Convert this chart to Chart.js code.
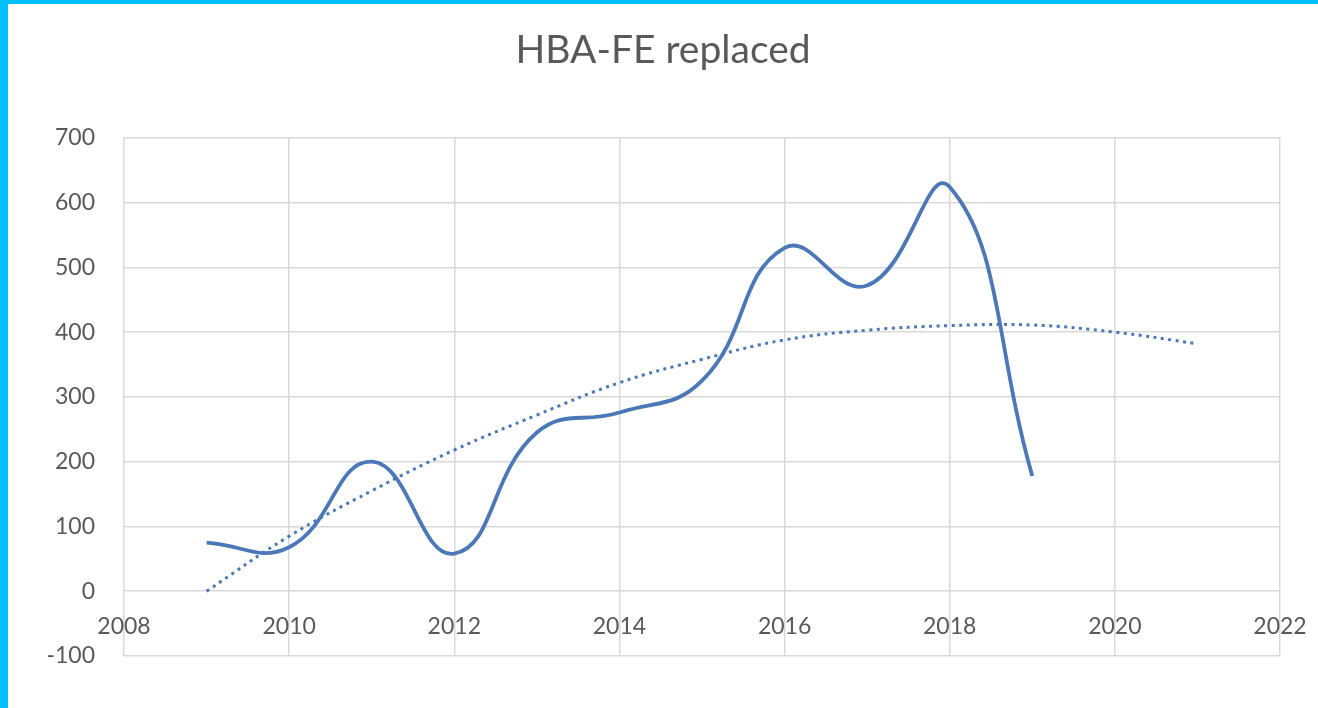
<!DOCTYPE html>
<html>
<head>
<meta charset="utf-8">
<script src="https://cdn.jsdelivr.net/npm/chart.js@4.4.1/dist/chart.umd.min.js"></script>
<style>
  html, body { margin: 0; padding: 0; background: #ffffff; }
  #wrap { position: absolute; left: 0; top: 0; width: 1310px; height: 704px;
          border-left: 8px solid #00BFFF; border-top: 4px solid #00BFFF; background: #fff; }
  canvas { display: block; }
</style>
</head>
<body>
<div id="wrap"><canvas id="c" width="1310" height="704"></canvas></div>
<script>
const years = [2009, 2010, 2011, 2012, 2013, 2014, 2015, 2016, 2017, 2018, 2019];
const replaced = [75, 68, 200, 58, 245, 276, 325, 530, 472, 624, 178];
const trendYears = [2009, 2010, 2011, 2012, 2013, 2014, 2015, 2016, 2017, 2018, 2019, 2020, 2021];
const trendValues = [0, 85, 155, 218, 272, 322, 358, 388, 403, 410, 411, 400, 382];
const xTicks = [2008, 2010, 2012, 2014, 2016, 2018, 2020, 2022];
const yTicks = [-100, 0, 100, 200, 300, 400, 500, 600, 700];

const blue = '#4A78B8';
const fontFam = "Lato, 'Open Sans', 'Liberation Sans', sans-serif";

new Chart(document.getElementById('c'), {
  type: 'line',
  data: {
    datasets: [
      {
        label: 'HBA-FE replaced',
        data: years.map((y, i) => ({ x: y, y: replaced[i] })),
        borderColor: blue,
        borderWidth: 3.8,
        pointRadius: 0,
        tension: 0.45,
        fill: false
      },
      {
        label: 'Trend',
        data: trendYears.map((y, i) => ({ x: y, y: trendValues[i] })),
        borderColor: blue,
        borderWidth: 3,
        borderDash: [3, 4.5],
        pointRadius: 0,
        tension: 0.4,
        fill: false
      }
    ]
  },
  options: {
    responsive: false,
    animation: false,
    layout: { padding: { left: 38, right: 38, top: 0, bottom: 52 } },
    plugins: {
      legend: { display: false },
      tooltip: { enabled: false },
      title: {
        display: true,
        text: 'HBA-FE replaced',
        color: '#595959',
        font: { family: fontFam, size: 39, weight: 'normal' },
        padding: { top: 23, bottom: 64 }
      }
    },
    scales: {
      x: {
        type: 'linear',
        position: { y: 0 },
        min: 2008,
        max: 2022,
        afterBuildTicks: (s) => { s.ticks = xTicks.map(v => ({ value: v })); },
        afterFit: (s) => { s.paddingRight = 0; s.paddingLeft = 0; },
        ticks: {
          color: '#595959',
          font: { family: fontFam, size: 23 },
          padding: 22,
          maxRotation: 0,
          callback: (v) => String(v)
        },
        grid: { color: '#d9d9d9', lineWidth: 1.5, drawTicks: false },
        border: { display: false }
      },
      y: {
        type: 'linear',
        min: -100,
        max: 700,
        afterBuildTicks: (s) => { s.ticks = yTicks.map(v => ({ value: v })); },
        afterFit: (s) => { s.width = 78; },
        ticks: {
          color: '#595959',
          font: { family: fontFam, size: 23 },
          padding: 29,
          callback: (v) => String(v)
        },
        grid: { color: '#d9d9d9', lineWidth: 1.5, drawTicks: false },
        border: { display: false }
      }
    }
  }
});
</script>
</body>
</html>
